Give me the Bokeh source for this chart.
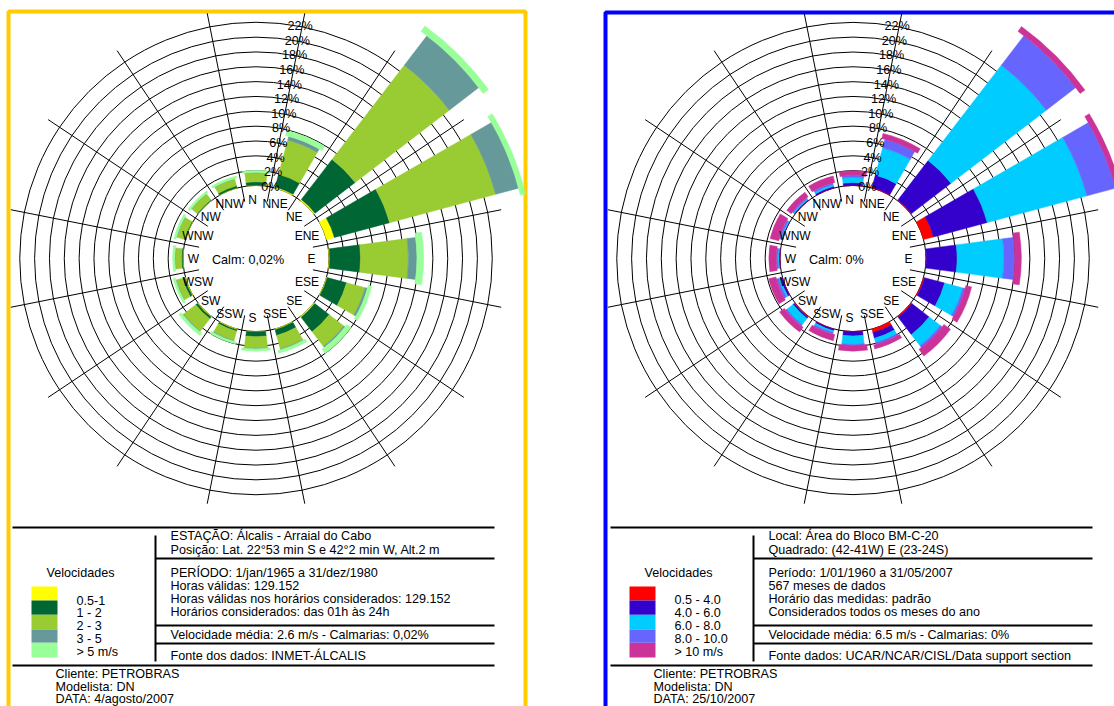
import numpy as np
from bokeh.plotting import figure
from bokeh.models import Range1d
from bokeh.embed import file_html
from bokeh.resources import INLINE
from bokeh.core.properties import value

W, H = 1114, 706
FONT = value("Liberation Sans")

# ---------------------------------------------------------------- data
DIRECTIONS = ["N", "NNE", "NE", "ENE", "E", "ESE", "SE", "SSE",
              "S", "SSW", "SW", "WSW", "W", "WNW", "NW", "NNW"]
RING_TICKS = [0, 2, 4, 6, 8, 10, 12, 14, 16, 18, 20, 22]
RING_LABELS = ["0%", "2%", "4%", "6%", "8%", "10%", "12%", "14%",
               "16%", "18%", "20%", "22%"]

# Estação Álcalis - frequency (%) of each speed class per direction
alc_classes = ["0.5-1", "1 - 2", "2 - 3", "3 - 5", "> 5 m/s"]
alc_colors = ["#FFFF00", "#006633", "#99CC33", "#669999", "#99FF99"]
alc_v05_1 = [0.05, 0.15, 0.2, 1.1, 0.1, 0.1, 0.15, 0.1,
             0.05, 0.1, 0.1, 0.1, 0.05, 0.05, 0.05, 0.05]
alc_v1_2 = [0.45, 1.75, 6.8, 7.7, 4.15, 2.7, 2.45, 0.8,
            0.65, 0.2, 0.3, 0.3, 0.15, 0.1, 0.1, 0.25]
alc_v2_3 = [1.2, 4.8, 16.0, 14.8, 6.45, 2.6, 2.5, 1.9,
            1.6, 1.3, 2.1, 0.9, 0.85, 1.05, 0.95, 0.95]
alc_v3_5 = [0.05, 0.5, 5.0, 3.2, 1.15, 0.3, 0.2, 0.1,
            0.05, 0.1, 0.1, 0.05, 0.05, 0.05, 0.05, 0.05]
alc_v5 = [0.3, 0.7, 0.9, 0.7, 0.9, 0.5, 0.7, 0.4,
          0.3, 0.3, 0.4, 0.3, 0.3, 0.3, 0.3, 0.3]
alc_calm = "Calm: 0,02%"

# Área do Bloco BM-C-20 - frequency (%) of each speed class per direction
bmc_classes = ["0.5 - 4.0", "4.0 - 6.0", "6.0 - 8.0", "8.0 - 10.0", "> 10 m/s"]
bmc_colors = ["#FF0000", "#3300CC", "#00CCFF", "#6666FF", "#CC3399"]
bmc_v05_4 = [0.02, 0.1, 0.1, 1.4, 0.05, 0.15, 0.15, 0.5,
             0.02, 0.05, 0.15, 0.05, 0.02, 0.02, 0.02, 0.02]
bmc_v4_6 = [0.38, 1.7, 6.7, 7.5, 4.15, 2.8, 2.95, 0.8,
            0.58, 0.2, 0.2, 0.25, 0.13, 0.08, 0.13, 0.23]
bmc_v6_8 = [0.7, 3.8, 16.2, 13.9, 6.3, 2.55, 1.9, 0.6,
            1.15, 0.25, 1.05, 0.25, 0.15, 0.15, 0.15, 0.25]
bmc_v8_10 = [0.25, 1.2, 5.0, 4.0, 1.45, 0.3, 0.3, 0.25,
             0.15, 0.2, 0.2, 0.3, 0.2, 0.2, 0.15, 0.2]
bmc_v10 = [0.65, 0.7, 0.8, 0.7, 0.9, 0.8, 1.1, 0.55,
           0.75, 0.85, 0.8, 1.0, 1.0, 1.2, 0.75, 0.9]
bmc_calm = "Calm: 0%"

alc_info = [
    "ESTAÇÃO: Álcalis - Arraial do Cabo",
    "Posição: Lat. 22°53 min S e 42°2 min W, Alt.2 m",
    "PERÍODO: 1/jan/1965 a 31/dez/1980",
    "Horas válidas: 129.152",
    "Horas válidas nos horários considerados: 129.152",
    "Horários considerados: das 01h às 24h",
    "Velocidade média: 2.6 m/s - Calmarias: 0,02%",
    "Fonte dos dados: INMET-ÁLCALIS",
]
alc_footer = ["Cliente: PETROBRAS", "Modelista: DN", "DATA: 4/agosto/2007"]

bmc_info = [
    "Local: Área do Bloco BM-C-20",
    "Quadrado: (42-41W) E (23-24S)",
    "Período: 1/01/1960 a 31/05/2007",
    "567 meses de dados",
    "Horário das medidas: padrão",
    "Considerados todos os meses do ano",
    "Velocidade média: 6.5 m/s - Calmarias: 0%",
    "Fonte dados: UCAR/NCAR/CISL/Data support section",
]
bmc_footer = ["Cliente: PETROBRAS", "Modelista: DN", "DATA: 25/10/2007"]

# ---------------------------------------------------------------- layout
R0 = 73.0          # radius of the 0% ring (px)
K = 7.42           # px per percent
BAR_W = 15.0       # angular width of a petal (deg)
BAND_W = 18.0      # angular width of the outermost class (deg)
FS = "12.6px"


def Y(y_top):
    """Convert a distance from the top of the page into a data y."""
    return H - y_top


p = figure(width=W, height=H, x_range=Range1d(0, W), y_range=Range1d(0, H),
           output_backend="svg", toolbar_location=None, min_border=0,
           x_axis_type=None, y_axis_type=None)
p.grid.visible = False
p.outline_line_color = None
p.background_fill_color = "white"
p.border_fill_color = "white"


def text(xs, ys_top, labels, align="left", size=FS):
    p.text(x=list(xs), y=[Y(v) for v in ys_top], text=list(labels),
           text_font=FONT, text_font_size=size, text_align=align,
           text_baseline="middle", text_color="black")


def rose(cx, cy_top, classes, colors, calm):
    cy = Y(cy_top)
    bearings = np.arange(16) * 22.5

    # rings
    radii = [R0 + K * t for t in RING_TICKS]
    p.circle(x=[cx] * len(radii), y=[cy] * len(radii), radius=radii,
             fill_color=None, line_color="black", line_width=1)

    # spokes on the sector boundaries
    b = np.radians(bearings + 11.25)
    r_in, r_out = 58.0, 250.0
    p.segment(x0=cx + r_in * np.sin(b), y0=cy + r_in * np.cos(b),
              x1=cx + r_out * np.sin(b), y1=cy + r_out * np.cos(b),
              line_color="black", line_width=1)

    # stacked petals
    a = np.pi / 2 - np.radians(bearings)
    cum = np.zeros(16)
    n = len(classes)
    for j, (vals, col) in enumerate(zip(classes, colors)):
        vals = np.asarray(vals, dtype=float)
        inner = R0 + K * cum
        outer = R0 + K * (cum + vals)
        hw = np.radians((BAND_W if j == n - 1 else BAR_W) / 2)
        p.annular_wedge(x=[cx] * 16, y=[cy] * 16,
                        inner_radius=inner, outer_radius=outer,
                        start_angle=a - hw, end_angle=a + hw,
                        fill_color=col, line_color=col, line_width=0.5,
                        direction="anticlock")
        cum = cum + vals

    # direction labels
    lb = np.radians(bearings)
    text(cx - 3.5 + 59 * np.sin(lb), [cy_top + 0.5 - 59 * np.cos(v) for v in lb],
         DIRECTIONS, align="center", size="12px")

    # ring labels along the N/NNE spoke
    sb = np.radians(10.5)
    rr = [R0 + K * t for t in RING_TICKS]
    text([cx + 1 + r * np.sin(sb) for r in rr],
         [cy_top - r * np.cos(sb) for r in rr],
         RING_LABELS, align="center")

    text([cx - 44], [cy_top + 1], [calm])


def panel(dx, info, legend_labels, colors, footer):
    lw = 2
    # table rules
    p.segment(x0=[12 + dx, 155 + dx, 155 + dx, 155 + dx, 12 + dx],
              y0=[Y(527), Y(558), Y(625), Y(643), Y(665)],
              x1=[494 + dx] * 5,
              y1=[Y(527), Y(558), Y(625), Y(643), Y(665)],
              line_color="black", line_width=lw)
    p.segment(x0=[155 + dx], y0=[Y(535)], x1=[155 + dx], y1=[Y(661)],
              line_color="black", line_width=lw)

    text([170 + dx] * 8, [535, 549, 572, 585, 598, 611, 634, 655.5], info)
    text([80 + dx], [572], ["Velocidades"], align="center")

    tops = [586, 600, 614.3, 629, 642.3]
    bots = [600, 614.3, 629, 642.3, 657]
    p.quad(left=[31 + dx] * 5, right=[57 + dx] * 5,
           top=[Y(v) for v in tops], bottom=[Y(v) for v in bots],
           fill_color=colors, line_color=None)
    text([76 + dx] * 5, [599.5, 612, 625, 638, 651.5], legend_labels)

    text([55 + dx] * 3, [673, 686, 698.5], footer)


# frames
p.line(x=[8, 8, 525, 525], y=[-10, Y(11), Y(11), -10],
       line_color="#FFCC00", line_width=4)
p.line(x=[605, 605, 1130], y=[-10, Y(12), Y(12)],
       line_color="#0000FF", line_width=4)

rose(255.5, 258, [alc_v05_1, alc_v1_2, alc_v2_3, alc_v3_5, alc_v5],
     alc_colors, alc_calm)
rose(852.5, 258, [bmc_v05_4, bmc_v4_6, bmc_v6_8, bmc_v8_10, bmc_v10],
     bmc_colors, bmc_calm)

panel(0, alc_info, alc_classes, alc_colors, alc_footer)
panel(598, bmc_info, bmc_classes, bmc_colors, bmc_footer)

open("out.html", "w").write(file_html(p, INLINE))
